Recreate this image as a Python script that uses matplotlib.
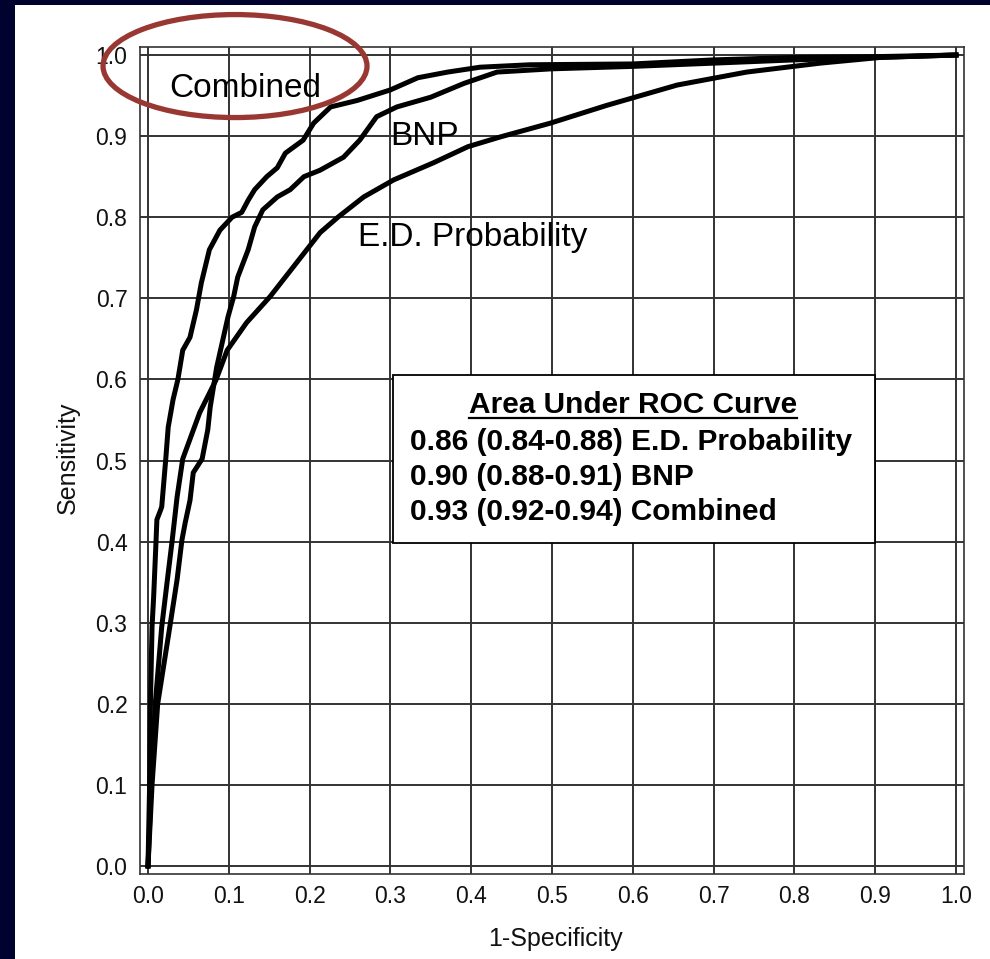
import matplotlib
matplotlib.use("Agg")
import matplotlib.pyplot as plt
from matplotlib.patches import Ellipse, Rectangle
import numpy as np

plt.rcParams['font.family'] = ['Liberation Sans', 'DejaVu Sans']

# ROC curves (1-specificity, sensitivity)
comb_x = [0.0, 0.002, 0.003, 0.005, 0.007, 0.010, 0.011, 0.016, 0.017, 0.022, 0.025,
          0.031, 0.037, 0.043, 0.052, 0.060, 0.066, 0.076, 0.089, 0.104, 0.116, 0.124,
          0.132, 0.147, 0.160, 0.170, 0.192, 0.205, 0.226, 0.259, 0.300, 0.334, 0.371,
          0.411, 0.473, 0.600, 0.700, 0.800, 0.900, 1.0]
comb_y = [0.0, 0.100, 0.200, 0.295, 0.332, 0.402, 0.427, 0.440, 0.443, 0.502, 0.541,
          0.575, 0.600, 0.636, 0.652, 0.686, 0.719, 0.760, 0.784, 0.800, 0.806, 0.821,
          0.834, 0.850, 0.861, 0.879, 0.895, 0.916, 0.936, 0.944, 0.957, 0.972, 0.979,
          0.985, 0.988, 0.989, 0.994, 0.997, 0.998, 1.0]

bnp_x = [0.0, 0.005, 0.012, 0.027, 0.036, 0.042, 0.046, 0.052, 0.056, 0.067, 0.074,
         0.077, 0.085, 0.099, 0.106, 0.111, 0.124, 0.132, 0.142, 0.160, 0.176, 0.193,
         0.213, 0.242, 0.262, 0.283, 0.308, 0.350, 0.391, 0.432, 0.500, 0.600, 0.700,
         0.800, 0.900, 1.0]
bnp_y = [0.0, 0.100, 0.200, 0.295, 0.353, 0.402, 0.423, 0.451, 0.485, 0.502, 0.538,
         0.566, 0.615, 0.677, 0.702, 0.726, 0.760, 0.788, 0.809, 0.825, 0.834, 0.850,
         0.858, 0.874, 0.895, 0.924, 0.936, 0.948, 0.965, 0.979, 0.983, 0.986, 0.990,
         0.994, 0.997, 1.0]

ed_x = [0.0, 0.004, 0.009, 0.017, 0.024, 0.030, 0.036, 0.043, 0.064, 0.084, 0.098,
        0.122, 0.151, 0.184, 0.213, 0.235, 0.267, 0.304, 0.353, 0.396, 0.436, 0.498,
        0.568, 0.655, 0.741, 0.832, 0.906, 1.0]
ed_y = [0.0, 0.100, 0.200, 0.295, 0.353, 0.402, 0.455, 0.502, 0.559, 0.599, 0.636,
        0.670, 0.702, 0.744, 0.781, 0.800, 0.825, 0.846, 0.867, 0.887, 0.899, 0.916,
        0.938, 0.963, 0.979, 0.990, 0.997, 1.0]

ticks = [0.0, 0.1, 0.2, 0.3, 0.4, 0.5, 0.6, 0.7, 0.8, 0.9, 1.0]
tick_labels = ['0.0', '0.1', '0.2', '0.3', '0.4', '0.5', '0.6', '0.7', '0.8', '0.9', '1.0']

auc_title = 'Area Under ROC Curve'
auc_lines = ['0.86 (0.84-0.88) E.D. Probability',
             '0.90 (0.88-0.91) BNP',
             '0.93 (0.92-0.94) Combined']

W, H = 990, 959
fig = plt.figure(figsize=(W / 100, H / 100), dpi=100, facecolor='#02022e')
fig.patches.append(Rectangle((15 / W, 0), 1, (H - 5) / H, transform=fig.transFigure,
                             facecolor='white', edgecolor='none', zorder=-1))

ax = fig.add_axes([140 / W, 1 - 874 / H, 824 / W, 827 / H])
ax.set_xlim(-0.0099, 1.0099)
ax.set_ylim(-0.0099, 1.0099)
ax.set_xticks(ticks)
ax.set_xticklabels(tick_labels)
ax.set_yticks(ticks)
ax.set_yticklabels(tick_labels)
ax.tick_params(length=0, labelsize=16.5, colors='#111111')
ax.tick_params(axis='x', pad=8)
ax.tick_params(axis='y', pad=9)
ax.grid(True, color='#333333', lw=1.4)
ax.set_axisbelow(True)
for s in ax.spines.values():
    s.set_linewidth(1.2)
    s.set_color('#333333')

for xs, ys in [(ed_x, ed_y), (bnp_x, bnp_y), (comb_x, comb_y)]:
    ax.plot(xs, ys, color='black', lw=3.6, solid_joinstyle='round', zorder=3)

# curve labels
ax.text(0.026, 0.948, 'Combined', fontsize=24, ha='left', va='baseline', zorder=5)
ax.text(0.2995, 0.889, 'BNP', fontsize=24, ha='left', va='baseline', zorder=5)
ax.text(0.260, 0.7645, 'E.D. Probability', fontsize=24, ha='left', va='baseline', zorder=5)

# AUC box
ax.add_patch(Rectangle((0.303, 0.398), 0.597, 0.207, facecolor='white',
                       edgecolor='black', lw=1.3, zorder=4))
title = ax.text(0.600, 0.5586, auc_title, fontsize=21.5, fontweight='bold',
                ha='center', va='baseline', zorder=5)
for txt, yb in zip(auc_lines, [0.5129, 0.4698, 0.4266]):
    ax.text(0.324, yb, txt, fontsize=21.5, fontweight='bold',
            ha='left', va='baseline', zorder=5)

fig.canvas.draw()
bb = title.get_window_extent(fig.canvas.get_renderer())
x0 = ax.transData.inverted().transform((bb.x0, bb.y0))[0]
x1 = ax.transData.inverted().transform((bb.x1, bb.y0))[0]
ax.plot([x0, x1], [0.5524, 0.5524], color='black', lw=1.6, zorder=5)

# red highlight ring
ax.add_patch(Ellipse((0.1077, 0.9864), 0.3267, 0.127, facecolor='none',
                     edgecolor='#993833', lw=3.8, clip_on=False, zorder=10))

fig.text(68 / W, 1 - 458 / H, 'Sensitivity', rotation=90, fontsize=18,
         ha='center', va='center', color='#111111')
fig.text(555 / W, 1 - 946 / H, '1-Specificity', fontsize=18,
         ha='center', va='baseline', color='#111111')

fig.savefig('out.png', dpi=100, facecolor=fig.get_facecolor())
